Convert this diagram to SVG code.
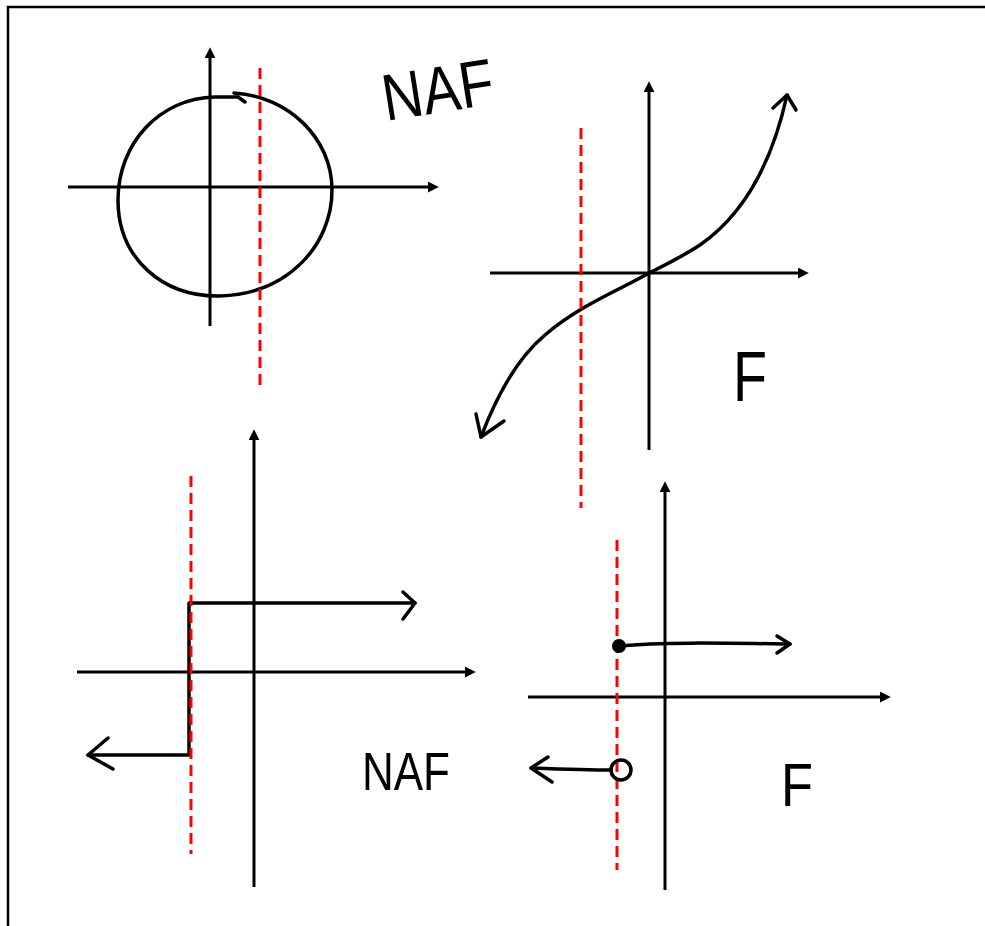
<svg xmlns="http://www.w3.org/2000/svg" width="985" height="926" viewBox="0 0 985 926">
<style>
.ax{stroke:#000;stroke-width:3;fill:none}
.cv{stroke:#000;stroke-width:3.5;fill:none;stroke-linecap:round;stroke-linejoin:round}
.rd{stroke:#f00;stroke-width:3;stroke-dasharray:11 6;fill:none}
.tx{font-family:"Liberation Sans",Arial,sans-serif;fill:#000}
</style>
<defs>
<marker id="ah" viewBox="0 0 10 10" refX="2" refY="5" markerWidth="11" markerHeight="11" markerUnits="userSpaceOnUse" orient="auto">
<path d="M0,0 L10,5 L0,10 z" fill="#000"/>
</marker>
</defs>
<rect width="985" height="926" fill="#fff"/>
<path d="M8,926 V7 H985" stroke="#000" stroke-width="2.5" fill="none"/>

<g id="panel1">
<line class="ax" x1="68" y1="187" x2="430" y2="187" marker-end="url(#ah)"/>
<line class="ax" x1="210" y1="326" x2="210" y2="56" marker-end="url(#ah)"/>
<path class="cv" d="M234,93 C288,96 332,138 332,190 C332,245 288,294 220,296 C162,297 118,258 118,200 C118,143 160,98 215,97 L238,97 L245,102"/>
<line class="rd" x1="260" y1="68" x2="260" y2="388"/>
<text class="tx" x="386" y="121" font-size="66" textLength="112" lengthAdjust="spacingAndGlyphs" transform="rotate(-9 386 121)">NAF</text>
</g>

<g id="panel2">
<line class="ax" x1="490" y1="273" x2="800" y2="273" marker-end="url(#ah)"/>
<line class="ax" x1="649" y1="450" x2="649" y2="90" marker-end="url(#ah)"/>
<path class="cv" d="M787,95 C775,150 750,210 700,245 C680,258 665,265 649,273 C620,290 580,305 545,335 C515,360 495,400 481,437"/>
<path class="cv" d="M773,108 L787,95 L796,110"/>
<path class="cv" d="M476,414 L481,437 L504,421"/>
<line class="rd" x1="581" y1="128" x2="581" y2="508"/>
<text class="tx" x="733" y="401" font-size="70" textLength="34" lengthAdjust="spacingAndGlyphs">F</text>
</g>

<g id="panel3">
<line class="ax" x1="77" y1="672" x2="467" y2="672" marker-end="url(#ah)"/>
<line class="ax" x1="254" y1="887" x2="254" y2="438" marker-end="url(#ah)"/>
<path class="cv" d="M415,603 H189 V755 H88"/>
<path class="cv" d="M403,592 L415,603 L403,619"/>
<path class="cv" d="M108,738 L88,755 L113,769"/>
<line class="rd" x1="191" y1="476" x2="191" y2="854"/>
<text class="tx" x="362" y="790" font-size="53" textLength="88" lengthAdjust="spacingAndGlyphs">NAF</text>
</g>

<g id="panel4">
<line class="ax" x1="528" y1="697" x2="882" y2="697" marker-end="url(#ah)"/>
<line class="ax" x1="665" y1="890" x2="665" y2="490" marker-end="url(#ah)"/>
<line class="rd" x1="617" y1="540" x2="617" y2="870"/>
<path class="cv" d="M619,646 C660,642 720,643 790,644"/>
<path class="cv" d="M777,636 L790,644 L777,653"/>
<circle cx="619" cy="646" r="7" fill="#000"/>
<path class="cv" d="M611,770 C590,770 560,769 531,768"/>
<path class="cv" d="M548,757 L531,768 L552,782"/>
<circle cx="621" cy="770" r="10" fill="none" stroke="#000" stroke-width="3.5"/>
<text class="tx" x="781" y="806" font-size="61" textLength="32" lengthAdjust="spacingAndGlyphs">F</text>
</g>
</svg>
